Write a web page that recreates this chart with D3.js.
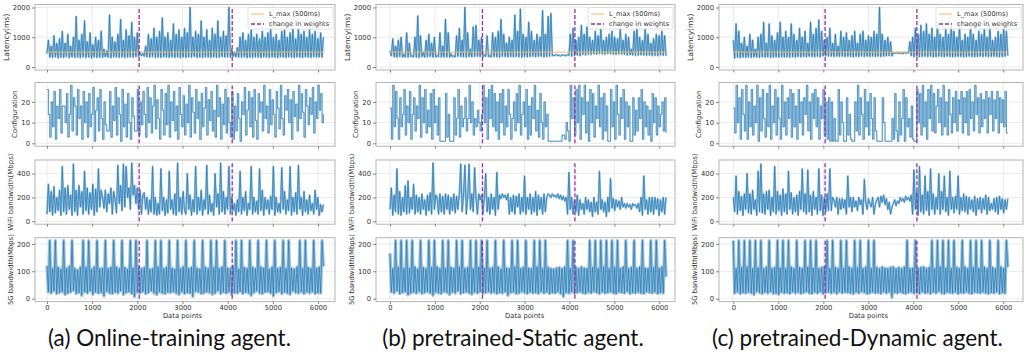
<!DOCTYPE html>
<html>
<head>
<meta charset="utf-8">
<script src="https://cdn.jsdelivr.net/npm/d3@7"></script>
<style>
body { margin: 0; background: #fff; }
svg { display: block; }
</style>
</head>
<body>
<div id="container"><svg></svg></div>
<script>
let width = 1027;
let height = 356;

// ---- data (about one sample every ~30 data points) ----
let captions = ['(a) Online-training agent.', '(b) pretrained-Static agent.', '(c) pretrained-Dynamic agent.'];
let metrics = ['Latency(ms)', 'Configuration', 'WiFi bandwidth(Mbps)', '5G bandwidth(Mbps)'];
let yTickValues = [[0, 1000, 2000], [0, 10, 20], [0, 200, 400], [0, 100, 200]];
let xTickValues = [0, 1000, 2000, 3000, 4000, 5000, 6000];
let lastIndex = [6120, 6150, 6100];
let weightChanges = [[2040, 4100], [2060, 4120], [2040, 4080]];
let metricMax = [2000, 28, 490, 212];
let lMax = 500;

let latA = [
  450, 900, 330, 700, 320, 1050, 340, 800, 300, 950,
  330, 1200, 320, 800, 350, 1100, 310, 700, 340, 1000,
  320, 1700, 330, 900, 310, 1100, 340, 1550, 320, 850,
  330, 1150, 300, 750, 340, 1000, 320, 900, 330, 1200,
  320, 600, 340, 550, 330, 1750, 310, 1000, 340, 850,
  330, 1100, 320, 1600, 340, 900, 320, 1250, 330, 1050,
  340, 1500, 330, 1000, 350, 1150, 360, 500, 380, 450,
  360, 700, 340, 1100, 330, 950, 350, 1300, 320, 1000,
  330, 1200, 320, 1650, 340, 1000, 330, 1150, 320, 900,
  340, 1450, 320, 1100, 330, 1250, 310, 1000, 340, 1300,
  320, 1150, 340, 2000, 330, 1000, 350, 1200, 320, 1100,
  330, 1550, 320, 1000, 340, 1250, 330, 900, 320, 1300,
  340, 1100, 320, 1550, 330, 1000, 350, 1200, 330, 1050,
  340, 2000, 330, 600, 350, 500, 340, 650, 330, 1000,
  320, 1150, 340, 900, 310, 1100, 330, 1250, 320, 1000,
  340, 1100, 330, 950, 320, 1200, 340, 1000, 330, 1150,
  320, 1300, 340, 1000, 330, 1100, 310, 900, 340, 1200,
  330, 1250, 320, 1000, 340, 1150, 330, 1300, 320, 950,
  340, 1300, 330, 1100, 320, 1200, 340, 1000, 330, 1250,
  320, 1100, 340, 1200, 330, 950, 340, 1150, 330, 1000
];
let cfgA = [
  26, 14, 3, 20, 8, 25, 2, 18, 12, 26,
  5, 18, 18, 10, 24, 3, 14, 28, 6, 22,
  18, 4, 26, 12, 18, 2, 25, 10, 20, 3,
  24, 8, 14, 27, 1, 16, 22, 6, 26, 12,
  2, 20, 9, 6, 6, 25, 3, 18, 11, 27,
  4, 22, 14, 1, 26, 8, 19, 3, 24, 10,
  2, 22, 13, 6, 6, 26, 4, 20, 9, 25,
  14, 3, 27, 10, 22, 5, 18, 28, 7, 21,
  12, 2, 26, 16, 4, 24, 9, 28, 3, 20,
  11, 25, 6, 18, 2, 27, 14, 8, 23, 4,
  19, 10, 28, 3, 22, 15, 5, 26, 12, 20,
  2, 24, 8, 17, 27, 4, 21, 11, 25, 6,
  16, 3, 28, 13, 22, 2, 19, 9, 26, 5,
  22, 10, 3, 25, 2, 18, 6, 24, 12, 1,
  20, 14, 27, 4, 16, 25, 8, 22, 3, 26,
  11, 2, 24, 15, 20, 6, 28, 12, 18, 5,
  26, 9, 21, 14, 3, 25, 17, 7, 28, 12,
  4, 23, 16, 26, 10, 21, 2, 25, 13, 19,
  6, 28, 12, 24, 15, 3, 26, 18, 9, 22,
  14, 27, 5, 20, 12, 28, 16, 24, 10, 14
];
let wifiA = [
  60, 310, 80, 250, 50, 290, 70, 200, 90, 260,
  50, 460, 80, 280, 60, 300, 100, 220, 50, 480,
  80, 260, 50, 300, 120, 250, 60, 420, 90, 280,
  60, 240, 100, 310, 50, 270, 80, 440, 120, 260,
  200, 110, 260, 80, 230, 150, 280, 60, 250, 180,
  70, 470, 150, 300, 90, 480, 120, 460, 200, 280,
  100, 490, 220, 300, 150, 280, 100, 260, 60, 220,
  240, 100, 200, 60, 180, 80, 460, 60, 200, 50,
  150, 60, 440, 90, 200, 50, 180, 70, 420, 100,
  180, 60, 230, 50, 490, 80, 200, 60, 250, 90,
  60, 400, 100, 220, 50, 180, 80, 460, 60, 200,
  90, 260, 50, 180, 100, 470, 60, 220, 80, 150,
  50, 400, 120, 230, 60, 490, 80, 250, 60, 200,
  100, 460, 60, 200, 90, 150, 50, 180, 80, 420,
  60, 200, 90, 250, 50, 150, 100, 460, 60, 200,
  80, 170, 60, 440, 90, 260, 50, 200, 100, 180,
  60, 210, 100, 460, 50, 200, 80, 150, 70, 450,
  100, 250, 60, 180, 90, 460, 50, 200, 80, 240,
  60, 470, 100, 200, 50, 250, 80, 180, 60, 220,
  90, 150, 60, 260, 100, 200, 50, 140, 80, 140
];
let g5A = [
  120, 25, 212, 20, 110, 28, 212, 18, 115, 22,
  108, 25, 212, 15, 112, 20, 118, 24, 212, 30,
  110, 18, 105, 22, 115, 12, 212, 25, 114, 20,
  212, 28, 108, 16, 116, 24, 212, 20, 110, 22,
  112, 10, 212, 26, 110, 20, 115, 18, 212, 24,
  116, 20, 110, 28, 212, 15, 114, 22, 108, 25,
  212, 18, 112, 8, 212, 24, 115, 20, 110, 26,
  114, 18, 212, 22, 108, 28, 110, 20, 212, 15,
  116, 25, 212, 20, 110, 18, 115, 24, 212, 22,
  112, 26, 108, 20, 212, 15, 110, 25, 116, 18,
  212, 22, 110, 20, 114, 8, 212, 26, 112, 24,
  108, 18, 212, 20, 115, 25, 110, 22, 212, 16,
  114, 20, 212, 28, 110, 18, 116, 24, 212, 20,
  112, 25, 110, 15, 118, 22, 212, 20, 108, 26,
  212, 18, 114, 24, 110, 20, 212, 12, 115, 22,
  110, 28, 212, 20, 116, 18, 112, 24, 212, 25,
  108, 20, 115, 10, 212, 22, 110, 26, 114, 18,
  212, 24, 110, 20, 212, 16, 112, 28, 108, 22,
  116, 20, 212, 25, 110, 18, 212, 24, 114, 20,
  110, 26, 212, 18, 112, 22, 115, 20, 212, 118
];

let latB = [
  550, 380, 950, 340, 700, 330, 900, 350, 1000, 330,
  420, 340, 1150, 330, 800, 350, 380, 340, 1000, 330,
  1720, 320, 1050, 350, 500, 330, 900, 340, 1100, 350,
  800, 330, 1000, 340, 380, 350, 1150, 330, 700, 340,
  1600, 340, 1150, 330, 450, 350, 380, 340, 1050, 360,
  1300, 350, 900, 340, 2000, 330, 1150, 350, 600, 340,
  1350, 350, 1400, 360, 900, 350, 1000, 340, 400, 360,
  1050, 350, 380, 340, 1150, 350, 1000, 340, 1200, 330,
  1600, 360, 1100, 350, 800, 340, 1000, 350, 900, 340,
  1750, 350, 1200, 340, 1950, 330, 1100, 350, 1000, 340,
  1500, 350, 1200, 360, 900, 340, 1100, 350, 1000, 360,
  1900, 340, 1100, 350, 1700, 360, 1800, 380, 400, 390,
  420, 380, 400, 370, 410, 390, 400, 380, 420, 390,
  1100, 360, 1300, 380, 900, 400, 1000, 380, 1400, 420,
  1100, 400, 1350, 430, 1000, 420, 900, 440, 1200, 430,
  1050, 450, 1300, 440, 900, 430, 1000, 450, 1100, 440,
  1200, 430, 1000, 420, 950, 440, 1300, 430, 900, 420,
  1100, 400, 1000, 410, 600, 400, 1200, 390, 1350, 400,
  1000, 410, 900, 400, 1300, 390, 1100, 400, 800, 380,
  950, 390, 1100, 380, 1050, 400, 1200, 390, 1050, 380
];
let cfgB = [
  17, 2, 28, 8, 25, 12, 2, 22, 8, 14,
  26, 4, 18, 10, 25, 2, 14, 22, 6, 18,
  12, 28, 3, 22, 10, 26, 5, 16, 8, 24,
  2, 26, 10, 18, 4, 22, 1, 1, 1, 1,
  24, 3, 14, 1, 1, 1, 22, 4, 12, 26,
  3, 18, 8, 12, 22, 6, 12, 28, 10, 20,
  4, 12, 8, 16, 10, 6, 14, 28, 10, 22,
  2, 26, 12, 28, 8, 24, 6, 20, 2, 24,
  10, 26, 4, 18, 8, 26, 14, 2, 12, 20,
  6, 24, 10, 28, 4, 14, 20, 8, 26, 2,
  18, 4, 22, 12, 28, 6, 16, 3, 24, 10,
  2, 20, 8, 14, 1, 1, 1, 1, 1, 1,
  1, 1, 1, 1, 4, 4, 2, 10, 6, 1,
  28, 12, 22, 4, 26, 10, 28, 2, 22, 14,
  28, 5, 20, 1, 26, 10, 24, 3, 18, 12,
  28, 8, 22, 2, 24, 6, 18, 1, 1, 26,
  8, 20, 2, 28, 14, 4, 22, 12, 26, 2,
  20, 8, 18, 1, 1, 22, 4, 16, 6, 22,
  12, 26, 2, 20, 8, 18, 4, 16, 1, 24,
  10, 22, 4, 18, 8, 14, 20, 6, 22, 5
];
let wifiB = [
  100, 280, 50, 220, 80, 440, 60, 250, 50, 200,
  80, 300, 60, 340, 70, 200, 100, 310, 60, 220,
  80, 200, 60, 230, 100, 180, 50, 220, 90, 240,
  60, 490, 100, 220, 200, 60, 230, 80, 210, 60,
  230, 100, 220, 60, 200, 90, 230, 70, 210, 100,
  230, 480, 80, 220, 470, 60, 200, 480, 100, 230,
  80, 450, 200, 60, 230, 180, 220, 60, 200, 400,
  80, 200, 60, 230, 100, 200, 50, 410, 100, 220,
  190, 230, 200, 220, 180, 230, 60, 200, 80, 220,
  60, 210, 120, 230, 60, 200, 80, 380, 60, 200,
  100, 230, 60, 200, 80, 250, 50, 220, 100, 200,
  60, 230, 80, 200, 230, 220, 200, 230, 210, 220,
  200, 230, 190, 220, 180, 210, 170, 200, 60, 410,
  100, 200, 60, 180, 80, 220, 50, 180, 100, 150,
  60, 200, 100, 180, 80, 160, 40, 200, 80, 160,
  60, 420, 100, 180, 80, 160, 40, 200, 80, 360,
  110, 190, 90, 180, 120, 170, 100, 200, 120, 150,
  110, 150, 120, 140, 100, 150, 130, 140, 110, 150,
  80, 200, 50, 380, 100, 180, 60, 200, 80, 200,
  60, 200, 100, 190, 50, 180, 80, 200, 60, 200
];
let g5B = [
  165, 25, 110, 20, 212, 28, 115, 18, 212, 22,
  110, 25, 212, 14, 112, 20, 212, 24, 116, 20,
  108, 26, 212, 18, 114, 22, 110, 25, 212, 20,
  114, 12, 212, 24, 116, 20, 110, 18, 212, 26,
  112, 22, 212, 15, 114, 24, 110, 20, 212, 28,
  116, 18, 212, 22, 110, 25, 114, 20, 212, 16,
  110, 24, 212, 20, 115, 26, 212, 18, 112, 22,
  212, 25, 110, 20, 114, 24, 212, 18, 116, 22,
  108, 20, 212, 25, 112, 12, 110, 22, 212, 24,
  116, 18, 212, 20, 110, 26, 114, 22, 212, 18,
  112, 24, 110, 20, 212, 22, 116, 18, 212, 25,
  110, 20, 212, 24, 114, 18, 110, 22, 108, 20,
  112, 25, 114, 18, 110, 8, 116, 22, 212, 20,
  110, 24, 212, 18, 114, 22, 110, 25, 116, 20,
  112, 18, 110, 24, 212, 20, 114, 26, 212, 22,
  110, 18, 212, 24, 116, 20, 212, 22, 110, 25,
  212, 20, 114, 18, 212, 24, 110, 22, 116, 20,
  212, 26, 110, 18, 114, 22, 212, 20, 110, 24,
  116, 20, 212, 18, 112, 25, 110, 22, 212, 20,
  114, 24, 212, 18, 110, 22, 116, 20, 212, 80
];

let latC = [
  900, 300, 1450, 320, 1200, 310, 800, 330, 1000, 320,
  700, 330, 1100, 320, 900, 340, 600, 330, 1000, 320,
  1100, 340, 1500, 330, 800, 340, 1450, 320, 1050, 330,
  900, 340, 1150, 330, 1500, 340, 1000, 330, 1200, 340,
  1000, 330, 1450, 340, 1100, 330, 900, 350, 1300, 340,
  1000, 350, 1200, 340, 800, 360, 1500, 350, 1100, 340,
  1300, 360, 1580, 340, 1200, 380, 900, 370, 1000, 360,
  1300, 360, 800, 350, 1100, 360, 700, 350, 1200, 360,
  1000, 350, 1150, 360, 900, 350, 1050, 340, 1200, 360,
  800, 350, 1100, 360, 1200, 350, 900, 360, 1050, 350,
  1000, 360, 1200, 350, 1100, 360, 2000, 350, 1100, 360,
  900, 370, 1000, 380, 850, 370, 480, 460, 470, 490,
  460, 480, 470, 450, 490, 460, 480, 470, 850, 380,
  1000, 350, 1300, 360, 1100, 340, 1400, 350, 1200, 360,
  1450, 350, 1100, 360, 1300, 340, 1000, 350, 1500, 360,
  1100, 350, 1000, 340, 1300, 360, 1100, 350, 1450, 340,
  1200, 350, 1000, 360, 1400, 350, 900, 340, 1100, 350,
  1000, 360, 1450, 350, 1100, 340, 900, 350, 1200, 360,
  1100, 350, 1300, 360, 1000, 340, 1400, 350, 900, 360,
  1000, 350, 1200, 340, 1100, 350, 1300, 360, 1200, 380
];
let cfgC = [
  17, 5, 28, 10, 22, 2, 26, 14, 6, 28,
  2, 20, 8, 26, 4, 18, 10, 28, 1, 22,
  6, 26, 12, 3, 24, 8, 28, 2, 18, 10,
  26, 4, 22, 12, 2, 28, 8, 20, 4, 22,
  12, 26, 3, 24, 8, 18, 2, 26, 10, 20,
  4, 22, 14, 28, 6, 20, 2, 24, 12, 26,
  8, 22, 2, 18, 12, 26, 4, 20, 2, 22,
  1, 20, 1, 12, 1, 1, 26, 4, 20, 10,
  1, 1, 22, 4, 14, 2, 1, 1, 20, 6,
  28, 4, 22, 14, 2, 26, 8, 20, 4, 24,
  12, 2, 22, 6, 1, 1, 1, 1, 22, 10,
  1, 1, 1, 1, 1, 12, 2, 24, 6, 1,
  20, 4, 12, 26, 1, 22, 8, 12, 3, 18,
  2, 1, 1, 26, 10, 24, 4, 28, 8, 20,
  2, 26, 12, 28, 6, 24, 5, 18, 26, 10,
  22, 4, 28, 8, 20, 4, 26, 14, 5, 22,
  10, 25, 6, 21, 14, 25, 5, 22, 10, 25,
  4, 26, 12, 20, 6, 28, 14, 22, 5, 24,
  8, 21, 12, 25, 5, 22, 14, 25, 6, 21,
  12, 25, 5, 22, 10, 21, 8, 25, 5, 5
];
let wifiC = [
  200, 80, 380, 60, 250, 90, 210, 50, 230, 100,
  400, 70, 230, 60, 260, 100, 180, 50, 420, 80,
  480, 70, 230, 60, 250, 100, 260, 50, 200, 80,
  460, 60, 250, 90, 220, 50, 270, 80, 230, 60,
  420, 100, 240, 60, 200, 80, 220, 50, 250, 100,
  440, 80, 230, 60, 430, 80, 220, 50, 250, 100,
  200, 60, 440, 90, 220, 50, 200, 80, 230, 90,
  440, 90, 200, 180, 120, 200, 60, 190, 100, 190,
  110, 180, 60, 380, 120, 200, 80, 200, 120, 170,
  90, 200, 140, 180, 60, 350, 160, 100, 190, 150,
  120, 200, 60, 140, 180, 200, 120, 210, 160, 220,
  140, 190, 100, 160, 60, 120, 150, 180, 130, 170,
  150, 200, 170, 190, 160, 210, 180, 200, 170, 220,
  60, 430, 100, 250, 50, 460, 80, 220, 60, 380,
  90, 250, 50, 440, 100, 230, 60, 200, 100, 400,
  60, 250, 100, 380, 80, 200, 50, 420, 100, 200,
  70, 210, 100, 380, 60, 200, 90, 230, 80, 210,
  60, 200, 100, 180, 80, 210, 50, 190, 100, 200,
  70, 190, 100, 220, 60, 200, 90, 150, 100, 190,
  80, 200, 60, 210, 100, 190, 70, 180, 100, 190
];
let g5C = [
  212, 20, 110, 25, 212, 18, 114, 22, 212, 20,
  116, 24, 212, 20, 110, 15, 212, 26, 112, 22,
  212, 18, 110, 24, 116, 20, 212, 25, 110, 18,
  114, 20, 212, 16, 112, 24, 212, 20, 110, 22,
  212, 18, 116, 25, 110, 20, 212, 24, 114, 18,
  110, 22, 212, 26, 115, 20, 212, 18, 112, 24,
  212, 20, 110, 25, 114, 18, 116, 22, 212, 24,
  110, 20, 212, 24, 114, 18, 110, 25, 212, 20,
  112, 24, 212, 22, 116, 20, 110, 18, 212, 24,
  114, 20, 212, 26, 110, 22, 116, 18, 212, 20,
  110, 24, 212, 20, 114, 22, 110, 18, 116, 25,
  112, 20, 110, 24, 114, 5, 116, 22, 110, 20,
  114, 24, 110, 20, 116, 18, 212, 22, 110, 24,
  112, 20, 212, 22, 110, 18, 114, 25, 116, 20,
  110, 22, 114, 18, 212, 24, 110, 20, 212, 26,
  116, 20, 212, 18, 112, 24, 212, 22, 110, 20,
  212, 24, 114, 18, 110, 22, 212, 20, 116, 25,
  110, 20, 212, 18, 114, 24, 212, 22, 110, 20,
  212, 24, 116, 20, 110, 18, 212, 22, 114, 20,
  110, 25, 212, 18, 116, 22, 110, 20, 212, 115
];

let series = [
  [latA, cfgA, wifiA, g5A],
  [latB, cfgB, wifiB, g5B],
  [latC, cfgC, wifiC, g5C]
];

// ---- layout ----
let columnX = [[35, 335], [376, 675], [719, 1023]];
let xDomains = [[-266, 6376], [-312, 6350], [-318, 6438]];
let rowY = [[4.5, 70], [82.5, 146.2], [160, 224.2], [237.7, 301.6]];
let yDomains = [[-100, 2100], [-1.4, 29.4], [-24.5, 514.5], [-10.6, 222.6]];
let captionX = [169.5, 513, 857.5];
let labelSize = ['7.6px', '7px', '7px', '6.8px'];
// halo width under each series (thin lines in the original blur into a lighter band)
let haloWidth = [2, 1.1, 2, 3.2];
let coreOpacity = [1, 0.8, 1, 1];

let blue = '#1f77b4';
let orange = '#f9b65c';
let purple = '#9c2aa6';
let gridColor = '#e6e6e6';
let frameColor = '#b4b4b4';
let tickFont = '6.8px';

let svg;

function styleAxis(sel) {
    sel.select('.domain').remove();
    sel.selectAll('.tick line').attr('stroke', '#666').attr('stroke-width', 0.8);
    sel.selectAll('.tick text')
        .attr('fill', '#333')
        .style('font-family', 'DejaVu Sans')
        .style('font-size', tickFont);
}

function drawPanel(c, r) {
    let [x0, x1] = columnX[c];
    let [y0, y1] = rowY[r];
    let xScale = d3.scaleLinear().domain(xDomains[c]).range([x0, x1]);
    let yScale = d3.scaleLinear().domain(yDomains[r]).range([y1, y0]);
    let g = svg.append('g');
    let clipId = `clip-${c}-${r}`;

    svg.append('clipPath').attr('id', clipId)
        .append('rect')
        .attr('x', x0).attr('y', y0)
        .attr('width', x1 - x0).attr('height', y1 - y0);

    // grid
    g.append('g').selectAll('line').data(xTickValues).join('line')
        .attr('x1', d => xScale(d)).attr('x2', d => xScale(d))
        .attr('y1', y0).attr('y2', y1)
        .attr('stroke', gridColor).attr('stroke-width', 0.8);
    g.append('g').selectAll('line').data(yTickValues[r]).join('line')
        .attr('x1', x0).attr('x2', x1)
        .attr('y1', d => yScale(d)).attr('y2', d => yScale(d))
        .attr('stroke', gridColor).attr('stroke-width', 0.8);

    // series: light halo + thin core
    let values = series[c][r];
    let step = lastIndex[c] / (values.length - 1);
    let line = d3.line()
        .x((d, i) => xScale(i * step))
        .y(d => yScale(d));
    if (r === 1) line.curve(d3.curveStepAfter);
    let sg = g.append('g').attr('clip-path', `url(#${clipId})`);
    sg.append('path')
        .attr('d', line(values))
        .attr('fill', 'none')
        .attr('stroke', blue)
        .attr('stroke-opacity', 0.45)
        .attr('stroke-width', haloWidth[r])
        .attr('stroke-linejoin', 'round');
    sg.append('path')
        .attr('d', line(values))
        .attr('fill', 'none')
        .attr('stroke', blue)
        .attr('stroke-opacity', coreOpacity[r])
        .attr('stroke-width', 0.7)
        .attr('stroke-linejoin', 'round');

    // latency threshold
    if (r === 0) {
        g.append('line')
            .attr('x1', xScale(0)).attr('x2', xScale(lastIndex[c]))
            .attr('y1', yScale(lMax)).attr('y2', yScale(lMax))
            .attr('stroke', orange).attr('stroke-width', 1);
    }

    // weight changes
    g.append('g').selectAll('line').data(weightChanges[c]).join('line')
        .attr('x1', d => xScale(d)).attr('x2', d => xScale(d))
        .attr('y1', yScale(0)).attr('y2', yScale(metricMax[r]))
        .attr('stroke', purple).attr('stroke-width', 1.3)
        .attr('stroke-dasharray', '4,2');

    // frame
    g.append('rect')
        .attr('x', x0).attr('y', y0)
        .attr('width', x1 - x0).attr('height', y1 - y0)
        .attr('fill', 'none').attr('stroke', frameColor).attr('stroke-width', 1);

    // axes
    let yAxis = g.append('g')
        .attr('transform', `translate(${x0},0)`)
        .call(d3.axisLeft(yScale).tickValues(yTickValues[r]).tickFormat(d3.format('d')).tickSize(3).tickPadding(2))
        .call(styleAxis);
    let xAxis = d3.axisBottom(xScale).tickValues(xTickValues).tickSize(2.5).tickPadding(1.5)
        .tickFormat(r < 3 ? '' : d3.format('d'));
    g.append('g')
        .attr('transform', `translate(0,${y1})`)
        .call(xAxis)
        .call(styleAxis);

    // y label
    let box = yAxis.node().getBBox();
    g.append('text')
        .attr('transform', `translate(${x0 + box.x - 6.5},${(y0 + y1) / 2}) rotate(-90)`)
        .attr('text-anchor', 'middle')
        .attr('dominant-baseline', 'central')
        .style('font-family', 'DejaVu Sans')
        .style('font-size', labelSize[r])
        .attr('fill', '#333')
        .text(metrics[r]);

    if (r === 3) {
        g.append('text')
            .attr('x', xScale(3000)).attr('y', 318)
            .attr('text-anchor', 'middle')
            .style('font-family', 'DejaVu Sans')
            .style('font-size', tickFont)
            .attr('fill', '#333')
            .text('Data points');
    }

    if (r === 0) drawLegend(x1 - 87, y0 + 3);
}

function drawLegend(lx, ly) {
    let lg = svg.append('g').attr('transform', `translate(${lx},${ly})`);
    lg.append('rect')
        .attr('width', 85).attr('height', 21.5).attr('rx', 2)
        .attr('fill', '#fff').attr('fill-opacity', 0.85)
        .attr('stroke', '#d8d8d8').attr('stroke-width', 0.8);
    let entries = [
        {label: 'L_max (500ms)', color: orange, dash: null, width: 1},
        {label: 'change in weights', color: purple, dash: '4,2', width: 1.3}
    ];
    entries.forEach((e, i) => {
        let yy = 6.5 + i * 10;
        lg.append('line')
            .attr('x1', 3).attr('x2', 16)
            .attr('y1', yy).attr('y2', yy)
            .attr('stroke', e.color).attr('stroke-width', e.width)
            .attr('stroke-dasharray', e.dash);
        lg.append('text')
            .attr('x', 21).attr('y', yy)
            .attr('dominant-baseline', 'central')
            .style('font-family', 'DejaVu Sans')
            .style('font-size', '6.6px')
            .attr('fill', '#333')
            .text(e.label);
    });
}

function draw() {
    for (let c = 0; c < 3; c++) {
        for (let r = 0; r < 4; r++) drawPanel(c, r);
        svg.append('text')
            .attr('x', captionX[c]).attr('y', 346)
            .attr('text-anchor', 'middle')
            .style('font-family', 'Lato')
            .style('font-size', '22.5px')
            .attr('fill', '#111')
            .text(captions[c]);
    }
}

function main() {
    svg = d3.select('#container').select('svg')
        .attr('width', width)
        .attr('height', height);
    draw();
}

main();
</script>
</body>
</html>
